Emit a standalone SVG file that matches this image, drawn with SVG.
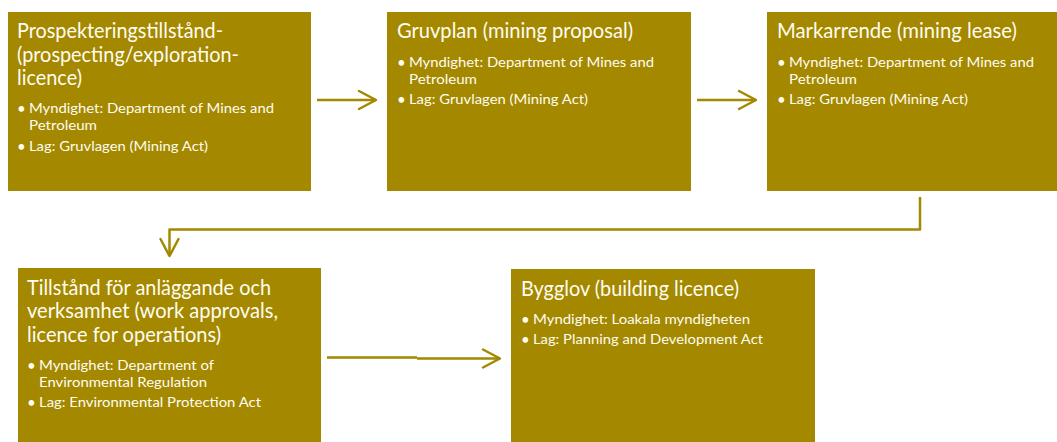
<svg xmlns="http://www.w3.org/2000/svg" width="1057" height="442" viewBox="0 0 1057 442">
  <style>
    .box { fill: #A38800; }
    .title { font-family: Lato, "Open Sans", "Liberation Sans", sans-serif; font-size: 20.5px; fill: #FFFDF0; }
    .item { font-family: Lato, "Open Sans", "Liberation Sans", sans-serif; font-size: 14px; fill: #FFFDF0; }
    .dot { font-family: Lato, "Open Sans", "Liberation Sans", sans-serif; font-size: 15px; fill: #FFFDF0; }
    .link { fill: none; stroke: #A38800; stroke-width: 2.5; stroke-linejoin: round; }
  </style>
  <defs>
    <marker id="chevron" markerUnits="userSpaceOnUse" markerWidth="22" markerHeight="22" viewBox="-2 -2 22 22" refX="17" refY="9" orient="auto" overflow="visible">
      <path d="M0,0 L17,9 L0,18" fill="none" stroke="#A38800" stroke-width="2.5" stroke-linecap="round" stroke-linejoin="round"/>
    </marker>
  </defs>
  <rect width="1057" height="442" fill="#FFFFFF"/>

  <g id="connectors">
    <path class="link" d="M317,100 H376" marker-end="url(#chevron)"/>
    <path class="link" d="M697,100 H756" marker-end="url(#chevron)"/>
    <path class="link" d="M920,197 V229.5 H169.5 V256" marker-end="url(#chevron)"/>
    <path class="link" d="M327,357.5 H417 M417,358.5 H500" marker-end="url(#chevron)"/>
  </g>

  <g id="prospecting">
    <rect class="box" x="8" y="12" width="303" height="179"/>
    <text class="title" x="17" y="38" textLength="206" lengthAdjust="spacingAndGlyphs">Prospekteringstillstånd-</text>
    <text class="title" x="17" y="62" textLength="222" lengthAdjust="spacingAndGlyphs">(prospecting/exploration-</text>
    <text class="title" x="17" y="85" textLength="65" lengthAdjust="spacingAndGlyphs">licence)</text>
    <text class="dot" x="17" y="113.5">•</text>
    <text class="item" x="29" y="113" textLength="245" lengthAdjust="spacingAndGlyphs">Myndighet: Department of Mines and</text>
    <text class="item" x="29" y="130" textLength="68" lengthAdjust="spacingAndGlyphs">Petroleum</text>
    <text class="dot" x="17" y="151.5">•</text>
    <text class="item" x="29" y="151" textLength="179" lengthAdjust="spacingAndGlyphs">Lag: Gruvlagen (Mining Act)</text>
  </g>

  <g id="mining-proposal">
    <rect class="box" x="387" y="12" width="304" height="179"/>
    <text class="title" x="397" y="38" textLength="236" lengthAdjust="spacingAndGlyphs">Gruvplan (mining proposal)</text>
    <text class="dot" x="397" y="67.5">•</text>
    <text class="item" x="409" y="67" textLength="245" lengthAdjust="spacingAndGlyphs">Myndighet: Department of Mines and</text>
    <text class="item" x="409" y="84" textLength="68" lengthAdjust="spacingAndGlyphs">Petroleum</text>
    <text class="dot" x="397" y="104.5">•</text>
    <text class="item" x="409" y="104" textLength="179" lengthAdjust="spacingAndGlyphs">Lag: Gruvlagen (Mining Act)</text>
  </g>

  <g id="mining-lease">
    <rect class="box" x="767" y="12" width="290" height="179"/>
    <text class="title" x="777" y="38" textLength="240" lengthAdjust="spacingAndGlyphs">Markarrende (mining lease)</text>
    <text class="dot" x="777" y="67.5">•</text>
    <text class="item" x="789" y="67" textLength="245" lengthAdjust="spacingAndGlyphs">Myndighet: Department of Mines and</text>
    <text class="item" x="789" y="84" textLength="68" lengthAdjust="spacingAndGlyphs">Petroleum</text>
    <text class="dot" x="777" y="104.5">•</text>
    <text class="item" x="789" y="104" textLength="179" lengthAdjust="spacingAndGlyphs">Lag: Gruvlagen (Mining Act)</text>
  </g>

  <g id="work-approvals">
    <rect class="box" x="18" y="268" width="303" height="174"/>
    <text class="title" x="27" y="295" textLength="244" lengthAdjust="spacingAndGlyphs">Tillstånd för anläggande och</text>
    <text class="title" x="27" y="318" textLength="251" lengthAdjust="spacingAndGlyphs">verksamhet (work approvals,</text>
    <text class="title" x="27" y="342" textLength="194" lengthAdjust="spacingAndGlyphs">licence for operations)</text>
    <text class="dot" x="27" y="370.5">•</text>
    <text class="item" x="39" y="370" textLength="175" lengthAdjust="spacingAndGlyphs">Myndighet: Department of</text>
    <text class="item" x="39" y="387" textLength="168" lengthAdjust="spacingAndGlyphs">Environmental Regulation</text>
    <text class="dot" x="27" y="407.5">•</text>
    <text class="item" x="39" y="407" textLength="222" lengthAdjust="spacingAndGlyphs">Lag: Environmental Protection Act</text>
  </g>

  <g id="building-licence">
    <rect class="box" x="511" y="269" width="304" height="173"/>
    <text class="title" x="521" y="296" textLength="218" lengthAdjust="spacingAndGlyphs">Bygglov (building licence)</text>
    <text class="dot" x="521" y="324.5">•</text>
    <text class="item" x="533" y="324" textLength="217" lengthAdjust="spacingAndGlyphs">Myndighet: Loakala myndigheten</text>
    <text class="dot" x="521" y="344.5">•</text>
    <text class="item" x="533" y="344" textLength="230" lengthAdjust="spacingAndGlyphs">Lag: Planning and Development Act</text>
  </g>
</svg>
